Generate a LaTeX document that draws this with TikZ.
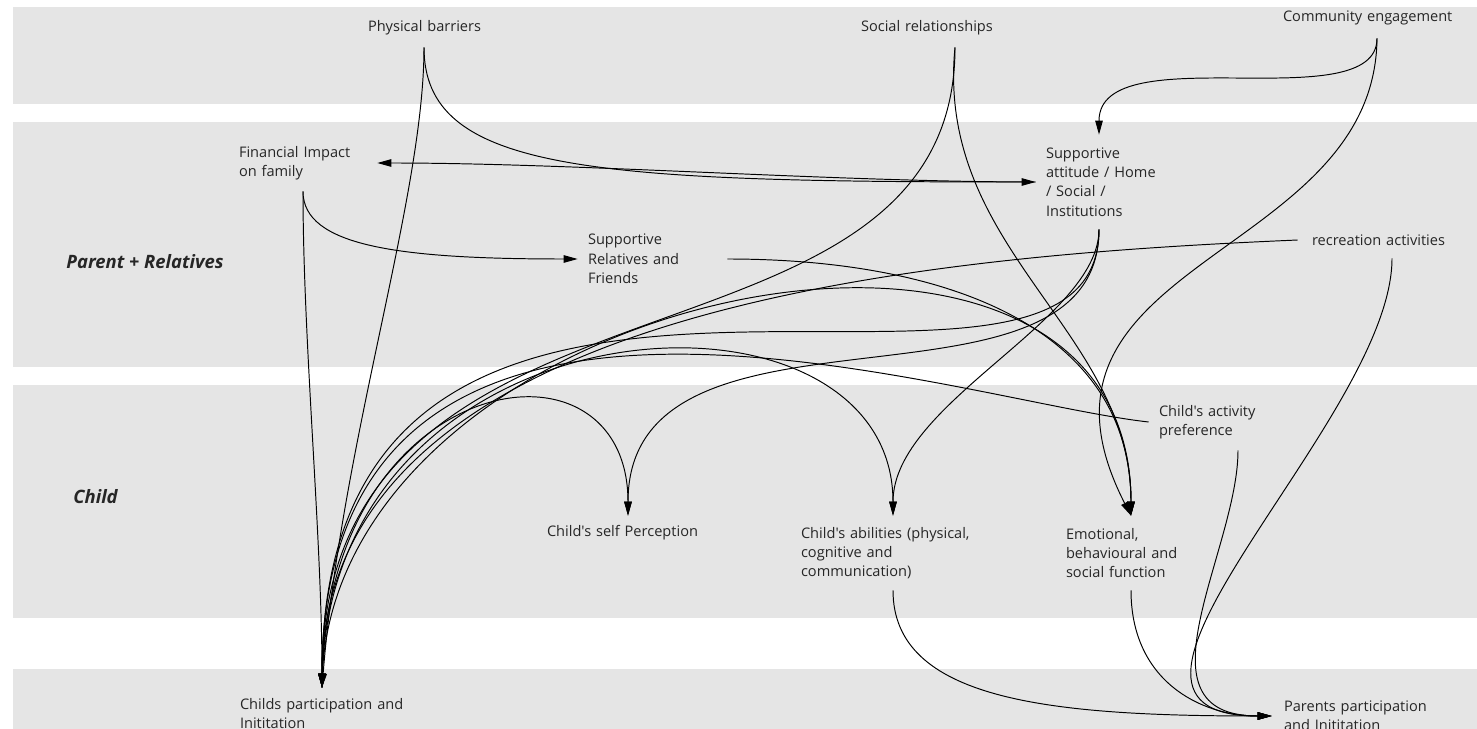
\documentclass[tikz,border=0pt]{standalone}
\usepackage{fontspec}
\setmainfont{Open Sans}[Ligatures=TeXOff]
\usepackage{tikz}
\usetikzlibrary{arrows.meta}
\hyphenpenalty=10000
\exhyphenpenalty=10000

\begin{document}
\begin{tikzpicture}[x=0.02cm, y=-0.02cm,
	band/.style={fill=black!10, draw=none},
	factor/.style={align=left, inner xsep=0.2cm, inner ysep=0pt, text=black!85, font=\fontsize{8.3}{11}\selectfont},
	lane/.style={anchor=west, inner sep=0pt, text=black!85, font=\fontsize{10.5}{12}\selectfont\bfseries\itshape},
	link/.style={line width=0.55pt, -{Triangle[length=0.28cm, width=0.15cm]}}]
			%%%%% START %%%%%
			
			\useasboundingbox (0, 0) rectangle (1477, 729);
			
			\fill[band] (13, 7) rectangle (1477, 104);
			\fill[band] (13, 122) rectangle (1477, 367);
			\fill[band] (13, 385) rectangle (1477, 618);
			\fill[band] (13, 669) rectangle (1477, 729);
			
			\node[lane] (lanepar) at (66, 262) {Parent + Relatives};
			\node[lane] (lanechild) at (73, 497) {Child};
			
			\node[factor, text width=2.24cm, minimum width=2.64cm, minimum height=0.76cm] (pb) at (424, 28) {Physical~barriers};
			\node[factor, text width=3.76cm, minimum width=4.16cm, minimum height=0.76cm] (soc) at (955, 28) {Social~relationships};
			\node[factor, text width=3.76cm, minimum width=4.16cm, minimum height=0.8cm] (com) at (1377, 18) {Community~engagement};
			
			\node[factor, text width=2.56cm, minimum width=2.96cm, minimum height=1.12cm] (fin) at (303, 163) {Financial~Impact\\on~family};
			\node[factor, text width=2.12cm, minimum width=2.52cm, minimum height=1.88cm] (att) at (1099, 182) {Supportive\\attitude~/~Home\\/~Social~/\\Institutions};
			\node[factor, text width=2.58cm, minimum width=2.98cm, minimum height=1.4cm] (rel) at (652.5, 259) {Supportive\\Relatives~and\\Friends};
			\node[factor, inner xsep=0.28cm, text width=3.2cm, minimum width=3.76cm, minimum height=0.72cm] (rec) at (1392, 240) {recreation~activities};
			
			\node[factor, text width=3.16cm, minimum width=3.56cm, minimum height=1.12cm] (pref) at (1238, 422) {Child's~activity\\preference};
			\node[factor, text width=3.24cm, minimum width=3.64cm, minimum height=0.68cm] (self) at (628, 533) {Child's~self~Perception};
			\node[factor, text width=3.68cm, minimum width=4.08cm, minimum height=1.48cm] (abil) at (893, 553) {Child's~abilities~(physical,\\cognitive~and\\communication)};
			\node[factor, text width=2.6cm, minimum width=3.0cm, minimum height=1.48cm] (emo) at (1131, 553) {Emotional,\\behavioural~and\\social~function};
			
			\node[factor, text width=3.28cm, minimum width=3.68cm, minimum height=1.02cm] (cpart) at (322, 713.5) {Childs~participation~and\\Inititation};
			\node[factor, inner xsep=0.24cm, text width=2.92cm, minimum width=3.4cm, minimum height=1.02cm] (ppart) at (1357, 716) {Parents~participation\\and~Inititation};
			
			% parent + relatives level
			\draw[link] (pb.south) .. controls +(0, 123) and +(-450, 0) .. (att.west);
			\draw[link] (att.west) .. controls +(-200, 0) and +(200, 0) .. (fin.east);
			\draw[link] (com.south) .. controls +(0, 82) and +(0, -100) .. (att.north);
			\draw[link] (fin.south) .. controls +(0, 55) and +(-178, 0) .. (rel.west);
			
			% into the child level
			\draw[link] (att.south) .. controls +(0, 206) and +(0, -239) .. (self.north);
			\draw[link] (att.south) .. controls +(0, 91) and +(0, -113) .. (abil.north);
			\draw[link] (rel.east) .. controls +(223, 0) and +(0, -186) .. (emo.north);
			\draw[link] (soc.south) .. controls +(-20, 203) and +(0, -186) .. (emo.north);
			\draw[link] (com.south) .. controls +(-2, 222) and +(-131, -256) .. (emo.north);
			
			% childs participation
			\draw[link] (pb.south) .. controls +(0, 150) and +(20, -250) .. (cpart.north);
			\draw[link] (fin.south) .. controls +(0, 150) and +(0, -150) .. (cpart.north);
			\draw[link] (soc.south) .. controls +(0, 351) and +(0, -453) .. (cpart.north);
			\draw[link] (att.south) .. controls +(0, 256) and +(0, -586) .. (cpart.north);
			\draw[link] (rec.west) .. controls +(-348, 15) and +(0, -388) .. (cpart.north);
			\draw[link] (pref.west) .. controls +(-199, -22) and +(0, -508) .. (cpart.north);
			\draw[link] (cpart.north) .. controls +(0, -397) and +(0, -396) .. (emo.north);
			\draw[link] (cpart.north) .. controls +(0, -398) and +(0, -256) .. (abil.north);
			\draw[link] (cpart.north) .. controls +(0, -318) and +(0, -196) .. (self.north);
			
			% parents participation
			\draw[link] (abil.south) .. controls +(0, 110) and +(-222, 0) .. (ppart.west);
			\draw[link] (emo.south) .. controls +(0, 90) and +(-72, 0) .. (ppart.west);
			\draw[link] (rec.south) .. controls +(0, 162) and +(-222, 0) .. (ppart.west);
			\draw[link] (pref.south) .. controls +(0, 100) and +(-142, 0) .. (ppart.west);
			
			%%%%% END %%%%%
\end{tikzpicture}
\end{document}
